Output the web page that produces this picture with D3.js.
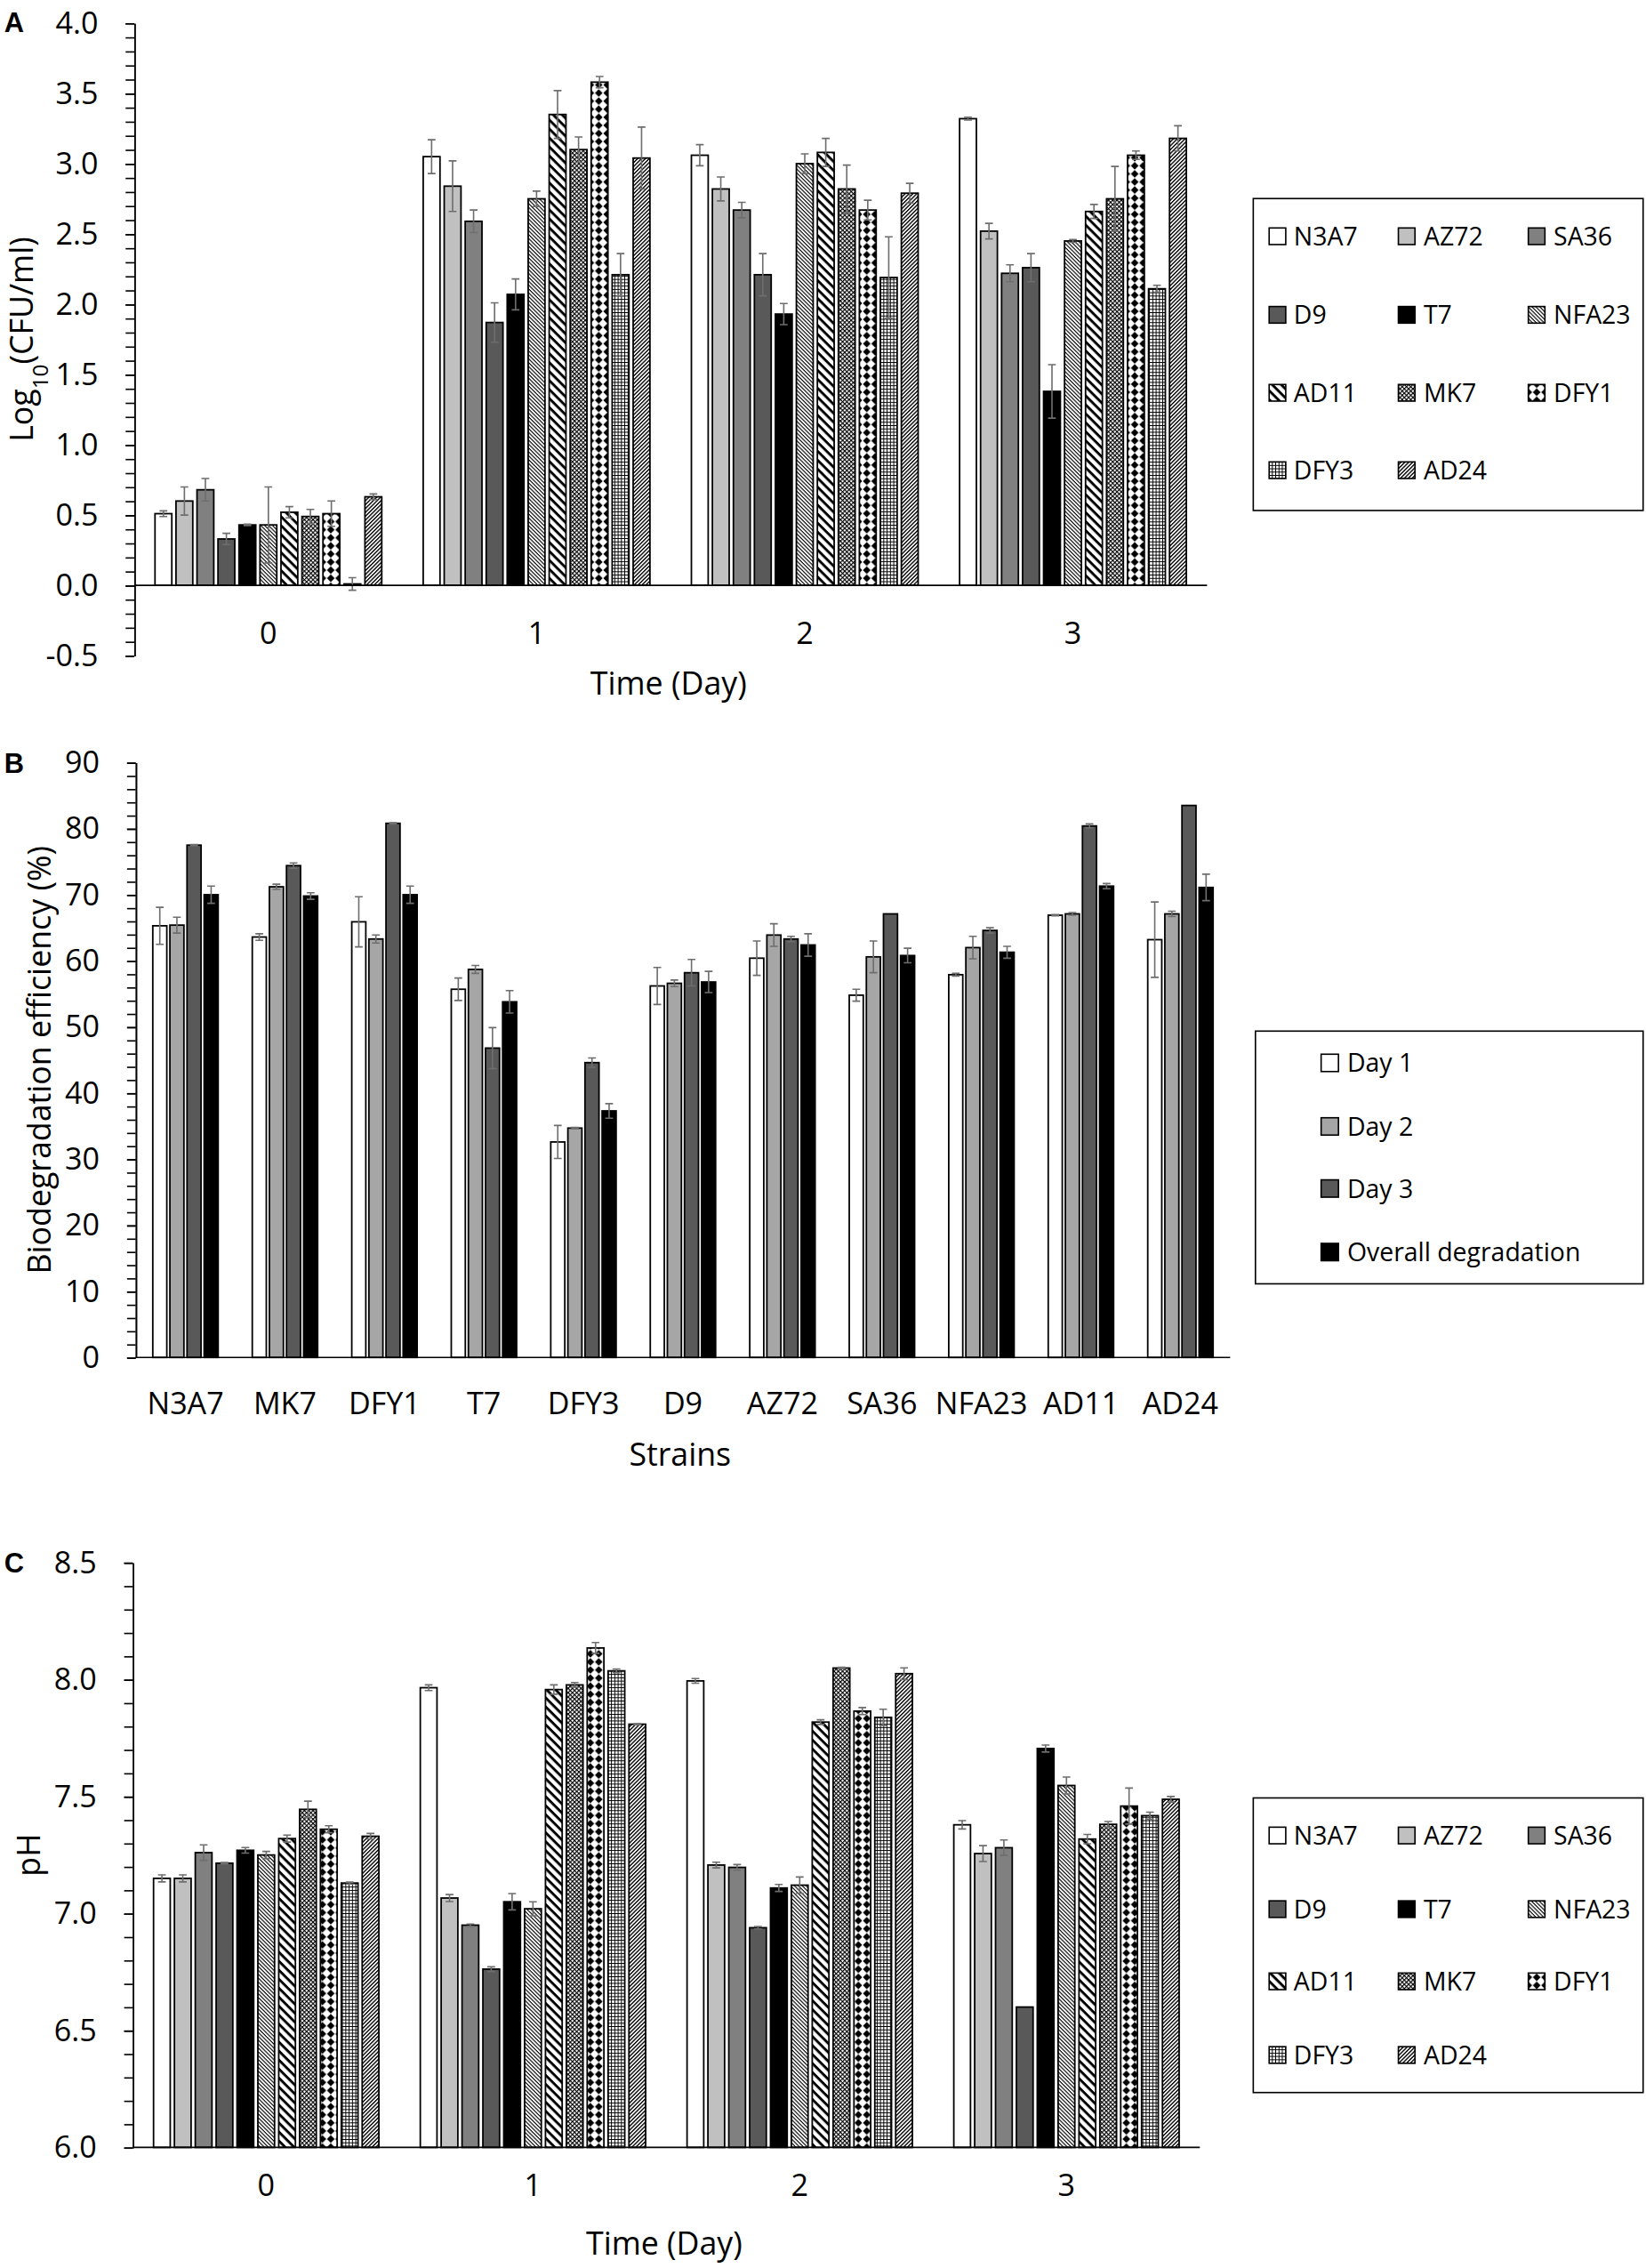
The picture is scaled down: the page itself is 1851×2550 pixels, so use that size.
<!DOCTYPE html>
<html>
<head>
<meta charset="utf-8">
<script src="https://cdn.jsdelivr.net/npm/d3@7"></script>
<style>
  body { margin: 0; background: #fff; overflow: hidden; }
  svg { display: block; font-family: "Open Sans", sans-serif; }
</style>
</head>
<body>
<script>
// ---- data ----
const days = ["0", "1", "2", "3"];
const strains = ["N3A7", "AZ72", "SA36", "D9", "T7", "NFA23", "AD11", "MK7", "DFY1", "DFY3", "AD24"];

// panel A: log10(CFU/ml), one row per day, one value per strain
const cfuMean = [
  [0.51, 0.60, 0.68, 0.33, 0.43, 0.43, 0.52, 0.49, 0.51, 0.01, 0.63],
  [3.05, 2.84, 2.59, 1.87, 2.07, 2.75, 3.35, 3.10, 3.58, 2.21, 3.04],
  [3.06, 2.82, 2.67, 2.21, 1.93, 3.00, 3.08, 2.82, 2.67, 2.19, 2.79],
  [3.32, 2.52, 2.22, 2.26, 1.38, 2.45, 2.66, 2.75, 3.06, 2.11, 3.18]
];
const cfuErr = [
  [0.02, 0.10, 0.08, 0.04, 0.005, 0.27, 0.04, 0.05, 0.09, 0.045, 0.02],
  [0.12, 0.18, 0.08, 0.14, 0.11, 0.055, 0.17, 0.09, 0.04, 0.15, 0.22],
  [0.075, 0.085, 0.055, 0.15, 0.075, 0.07, 0.10, 0.17, 0.07, 0.29, 0.07],
  [0.01, 0.055, 0.06, 0.10, 0.19, 0.01, 0.05, 0.23, 0.03, 0.025, 0.09]
];

// panel B: biodegradation efficiency (%)
const effStrains = ["N3A7", "MK7", "DFY1", "T7", "DFY3", "D9", "AZ72", "SA36", "NFA23", "AD11", "AD24"];
const effSeries = ["Day 1", "Day 2", "Day 3", "Overall degradation"];
const effDay1 = [65.3, 63.6, 65.9, 55.7, 32.6, 56.2, 60.4, 54.8, 57.9, 66.9, 63.2];
const effDay2 = [65.4, 71.2, 63.3, 58.7, 34.7, 56.6, 63.9, 60.6, 62.0, 67.1, 67.1];
const effDay3 = [77.5, 74.4, 80.8, 46.8, 44.6, 58.2, 63.3, 67.1, 64.6, 80.4, 83.5];
const effOverall = [70.0, 69.8, 70.0, 53.8, 37.3, 56.8, 62.4, 60.8, 61.3, 71.3, 71.1];
const errDay1 = [2.8, 0.5, 3.8, 1.7, 2.5, 2.8, 2.6, 0.9, 0.2, 0.1, 5.7];
const errDay2 = [1.2, 0.4, 0.6, 0.6, 0.1, 0.5, 1.7, 2.4, 1.7, 0.2, 0.4];
const errDay3 = [0.1, 0.4, 0.1, 3.1, 0.7, 2.0, 0.4, 0, 0.4, 0.3, 0];
const errOverall = [1.3, 0.5, 1.3, 1.7, 1.1, 1.6, 1.7, 1.1, 0.9, 0.4, 2.0];

// panel C: pH
const phMean = [
  [7.15, 7.15, 7.26, 7.215, 7.27, 7.25, 7.32, 7.445, 7.36, 7.13, 7.33],
  [7.965, 7.066, 6.95, 6.762, 7.05, 7.02, 7.957, 7.977, 8.135, 8.037, 7.809],
  [7.994, 7.207, 7.197, 6.939, 7.109, 7.121, 7.818, 8.049, 7.865, 7.838, 8.025],
  [7.379, 7.256, 7.281, 6.60, 7.705, 7.547, 7.318, 7.381, 7.459, 7.418, 7.488]
];
const phErr = [
  [0.015, 0.015, 0.033, 0.003, 0.012, 0.015, 0.015, 0.035, 0.015, 0.004, 0.012],
  [0.012, 0.015, 0.005, 0.01, 0.035, 0.03, 0.02, 0.01, 0.023, 0.008, 0.002],
  [0.01, 0.012, 0.012, 0.005, 0.015, 0.035, 0.01, 0.003, 0.015, 0.035, 0.025],
  [0.018, 0.034, 0.033, 0, 0.015, 0.036, 0.02, 0.012, 0.077, 0.015, 0.012]
];

// ---- drawing ----
const W = 1140, H = 2550 * 1140 / 1851;
const svg = d3.select("body").append("svg")
    .attr("width", 1851)
    .attr("height", 2550)
    .attr("viewBox", `0 0 ${W} ${H}`);

const defs = svg.append("defs");

function linePattern(id, size, angle, thick) {
    const p = defs.append("pattern")
        .attr("id", id)
        .attr("patternUnits", "userSpaceOnUse")
        .attr("width", size)
        .attr("height", size)
        .attr("patternTransform", `rotate(${angle})`);
    p.append("rect").attr("width", size).attr("height", size).attr("fill", "#fff");
    p.append("rect").attr("width", size).attr("height", thick).attr("fill", "#000");
    return p;
}
linePattern("p-nfa23", 1.9, 45, 0.7);
linePattern("p-ad11", 4.4, 45, 1.8);
linePattern("p-ad24", 1.9, -45, 0.85);
linePattern("p-mk7", 2.1, 45, 0.7)
    .append("rect").attr("width", 0.7).attr("height", 2.1).attr("fill", "#000");
linePattern("p-dfy3", 2.3, 0, 0.6)
    .append("rect").attr("width", 0.6).attr("height", 2.3).attr("fill", "#000");
// black diamonds on a square lattice
const dmnd = defs.append("pattern")
    .attr("id", "p-dfy1")
    .attr("patternUnits", "userSpaceOnUse")
    .attr("width", 5.8)
    .attr("height", 5.6);
dmnd.append("rect").attr("width", 5.8).attr("height", 5.6).attr("fill", "#fff");
dmnd.append("path").attr("d", "M2.9,0.15L5.55,2.8L2.9,5.45L0.25,2.8Z").attr("fill", "#000");

const strainFill = {
    N3A7: "#ffffff", AZ72: "#c0c0c0", SA36: "#808080", D9: "#595959", T7: "#000000",
    NFA23: "url(#p-nfa23)", AD11: "url(#p-ad11)", MK7: "url(#p-mk7)",
    DFY1: "url(#p-dfy1)", DFY3: "url(#p-dfy3)", AD24: "url(#p-ad24)"
};
const dayFill = {
    "Day 1": "#ffffff", "Day 2": "#a6a6a6", "Day 3": "#595959", "Overall degradation": "#000000"
};

function drawPanel(cfg) {
    const g = svg.append("g");
    const y = d3.scaleLinear().domain(cfg.yDomain).range([cfg.bottom, cfg.top]);
    const x0 = d3.scaleBand().domain(cfg.groups).range([cfg.left, cfg.right]);
    const x1 = d3.scaleBand().domain(cfg.series)
        .range([cfg.inset, x0.bandwidth() - cfg.inset])
        .paddingInner(cfg.barPad)
        .paddingOuter(cfg.barPad / 2);

    const rows = [];
    cfg.groups.forEach((grp, gi) => cfg.series.forEach((s, si) => {
        rows.push({grp, s, v: cfg.value(gi, si), e: cfg.err(gi, si)});
    }));

    // bars
    g.append("g").selectAll("rect")
        .data(rows)
        .join("rect")
        .attr("x", d => x0(d.grp) + x1(d.s))
        .attr("width", x1.bandwidth())
        .attr("y", d => Math.min(y(d.v), y(cfg.base)))
        .attr("height", d => Math.abs(y(d.v) - y(cfg.base)))
        .attr("fill", d => cfg.fill(d.s))
        .attr("stroke", "#000")
        .attr("stroke-width", 1.1);

    // error bars
    const cap = 2.7;
    g.append("g")
        .attr("fill", "none")
        .attr("stroke", "#6e6e6e")
        .attr("stroke-width", 1)
        .selectAll("path")
        .data(rows.filter(d => d.e > 0))
        .join("path")
        .attr("d", d => {
            const cx = x0(d.grp) + x1(d.s) + x1.bandwidth() / 2;
            const hi = y(d.v + d.e), lo = y(d.v - d.e);
            return `M${cx - cap},${hi}H${cx + cap}M${cx},${hi}V${lo}M${cx - cap},${lo}H${cx + cap}`;
        });

    // y axis: major + minor ticks
    const yAxis = g.append("g")
        .attr("transform", `translate(${cfg.left},0)`)
        .call(d3.axisLeft(y).tickValues(cfg.major).tickSize(6).tickSizeOuter(0)
            .tickPadding(19).tickFormat(cfg.fmt));
    g.append("g")
        .attr("transform", `translate(${cfg.left},0)`)
        .call(d3.axisLeft(y).tickValues(cfg.minor).tickSize(6).tickSizeOuter(0).tickFormat(""));
    g.selectAll(".domain, .tick line").attr("stroke", "#000").attr("stroke-width", 1);
    yAxis.attr("font-size", null).attr("font-family", null);
    yAxis.selectAll("text").attr("font-size", 21).attr("fill", "#000");

    // x axis line at the base value
    g.append("line")
        .attr("x1", cfg.left).attr("x2", cfg.right)
        .attr("y1", y(cfg.base)).attr("y2", y(cfg.base))
        .attr("stroke", "#000").attr("stroke-width", 1);

    g.append("g").selectAll("text")
        .data(cfg.groups)
        .join("text")
        .attr("x", d => x0(d) + x0.bandwidth() / 2)
        .attr("y", cfg.labelY)
        .attr("text-anchor", "middle")
        .attr("font-size", 21)
        .text(d => d);

    g.append("text")
        .attr("x", cfg.titleX)
        .attr("y", cfg.titleY)
        .attr("text-anchor", "middle")
        .attr("font-size", 22)
        .text(cfg.xTitle);

    const yt = g.append("text")
        .attr("transform", `translate(${cfg.yTitleX},${(cfg.top + cfg.bottom) / 2}) rotate(-90)`)
        .attr("text-anchor", "middle")
        .attr("font-size", 22);
    cfg.yTitle.forEach(part => {
        const t = yt.append("tspan").text(part.t);
        if (part.sub) t.attr("font-size", 15).attr("baseline-shift", "sub");
    });

    g.append("text")
        .attr("x", 3)
        .attr("y", cfg.letterY)
        .attr("font-family", "'Liberation Sans', Arial, sans-serif")
        .attr("font-weight", "bold")
        .attr("font-size", 19)
        .text(cfg.letter);
}

function drawLegend(box, items, sw) {
    const g = svg.append("g");
    g.append("rect")
        .attr("x", box.x).attr("y", box.y)
        .attr("width", box.w).attr("height", box.h)
        .attr("fill", "#fff").attr("stroke", "#000").attr("stroke-width", 1);
    const it = g.selectAll("g.item").data(items).join("g");
    it.append("rect")
        .attr("x", d => d.x)
        .attr("y", d => d.y - sw / 2)
        .attr("width", sw).attr("height", sw)
        .attr("fill", d => d.fill)
        .attr("stroke", "#000").attr("stroke-width", 1);
    it.append("text")
        .attr("x", d => d.tx)
        .attr("y", d => d.y)
        .attr("dy", "0.36em")
        .attr("font-size", 17.5)
        .text(d => d.label);
}

const fmt1 = v => v.toFixed(1);

// panel A
drawPanel({
    groups: days, series: strains,
    value: (gi, si) => cfuMean[gi][si], err: (gi, si) => cfuErr[gi][si],
    fill: s => strainFill[s],
    yDomain: [-0.5, 4], top: 16, bottom: 454, left: 93, right: 836, base: 0,
    inset: 12.9, barPad: 0.2,
    major: d3.range(-5, 41, 5).map(v => v / 10),
    minor: d3.range(-5, 41).map(v => v / 10),
    fmt: fmt1,
    labelY: 446, xTitle: "Time (Day)", titleX: 463, titleY: 481,
    yTitle: [{t: "Log"}, {t: "10", sub: true}, {t: "(CFU/ml)"}], yTitleX: 23,
    letter: "A", letterY: 22
});

// panel B
const effVals = [effDay1, effDay2, effDay3, effOverall];
const effErrs = [errDay1, errDay2, errDay3, errOverall];
drawPanel({
    groups: effStrains, series: effSeries,
    value: (gi, si) => effVals[si][gi], err: (gi, si) => effErrs[si][gi],
    fill: s => dayFill[s],
    yDomain: [0, 90], top: 528, bottom: 940, left: 94, right: 852, base: 0,
    inset: 10.75, barPad: 0.18,
    major: d3.range(0, 91, 10),
    minor: d3.range(0, 91, 2),
    fmt: d3.format("d"),
    labelY: 979.5, xTitle: "Strains", titleX: 471, titleY: 1015,
    yTitle: [{t: "Biodegradation efficiency (%)"}], yTitleX: 35,
    letter: "B", letterY: 535
});

// panel C
drawPanel({
    groups: days, series: strains,
    value: (gi, si) => phMean[gi][si], err: (gi, si) => phErr[gi][si],
    fill: s => strainFill[s],
    yDomain: [6, 8.5], top: 1082, bottom: 1487, left: 92, right: 831, base: 6,
    inset: 12.9, barPad: 0.2,
    major: d3.range(60, 86, 5).map(v => v / 10),
    minor: d3.range(60, 86).map(v => v / 10),
    fmt: fmt1,
    labelY: 1520.5, xTitle: "Time (Day)", titleX: 460, titleY: 1561,
    yTitle: [{t: "pH"}], yTitleX: 28,
    letter: "C", letterY: 1089
});

// legends
const colSw = [879, 968.5, 1058.5];
const colTx = [896, 986, 1076];
function strainItems(rowsY) {
    return strains.map((s, i) => ({
        label: s, fill: strainFill[s],
        x: colSw[i % 3], tx: colTx[i % 3], y: rowsY[Math.floor(i / 3)]
    }));
}
drawLegend({x: 868, y: 137.5, w: 270, h: 216}, strainItems([163.6, 218, 272, 325.6]), 11.5);
drawLegend({x: 869.5, y: 714, w: 268.5, h: 175},
    effSeries.map((s, i) => ({label: s, fill: dayFill[s], x: 915, tx: 933, y: [736, 780, 823, 867][i]})), 12);
drawLegend({x: 868, y: 1245, w: 270, h: 204}, strainItems([1271, 1322, 1372, 1423]), 11.5);
</script>
</body>
</html>
